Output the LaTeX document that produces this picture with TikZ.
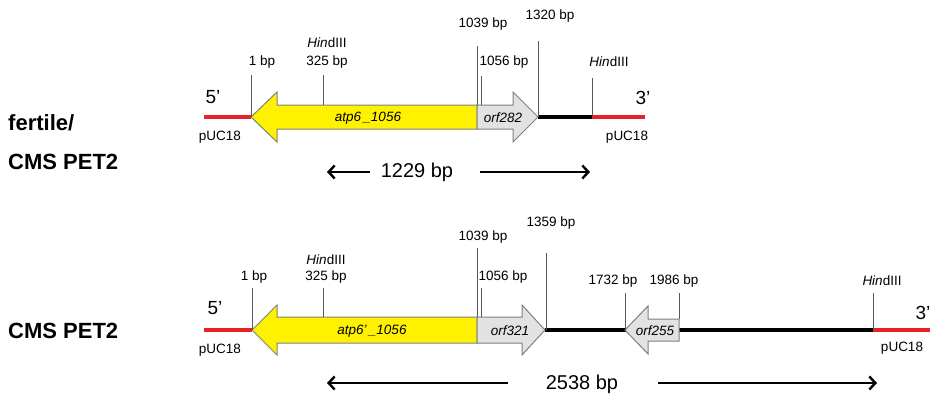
\documentclass[tikz,border=0pt]{standalone}
\usepackage{fontspec}
\setmainfont{Liberation Sans}
\usetikzlibrary{arrows.meta,positioning,calc}

\begin{document}
\begin{tikzpicture}[
    x=1pt, y=-1pt,
    >={Straight Barb[length=6pt,width=13pt]},
    font=\fontsize{13.5}{15}\selectfont,
    lbl/.style={inner sep=0pt},
    endlbl/.style={inner sep=0pt,font=\fontsize{19}{21}\selectfont},
    rowlbl/.style={inner sep=0pt,anchor=west,font=\fontsize{22}{24}\selectfont\bfseries},
    sizelbl/.style={inner sep=0pt,font=\fontsize{20}{22}\selectfont},
    genelbl/.style={inner sep=0pt,font=\fontsize{13.5}{15}\selectfont\itshape},
    tickline/.style={draw=black!65,line width=0.8pt},
    vector/.style={draw=vecred,line width=4pt},
    insert/.style={draw=black,line width=4pt},
    atpgene/.style={draw=genegray,line width=1pt,fill=atpyellow},
    orfgene/.style={draw=genegray,line width=1pt,fill=orffill},
    sizearrow/.style={->,line width=2.4pt},
]

\definecolor{vecred}{RGB}{232,32,40}
\definecolor{atpyellow}{RGB}{255,242,0}
\definecolor{orffill}{RGB}{226,226,226}
\definecolor{genegray}{RGB}{128,128,128}

\useasboundingbox (0,0) rectangle (932,397);

% ---------- Row 1: fertile / CMS PET2 (backbone y = 117) ----------
\node[rowlbl] (fert) at (8,123) {fertile/};
\node[rowlbl] (pet1) at (8,162) {CMS PET2};

\draw[vector] (204,117) -- (251,117);
\draw[insert] (538,117) -- (592,117);
\draw[vector] (592,117) -- (645,117);

\draw[atpgene] (251,117) -- (277,92) -- (277,105) -- (477,105) -- (477,129)
  -- (277,129) -- (277,142) -- cycle;
\draw[orfgene] (477,105) -- (513,105) -- (513,92) -- (538,117) -- (513,142)
  -- (513,129) -- (477,129) -- cycle;
\node[genelbl] (atpA) at (368,118) {atp6\,\_1056};
\node[genelbl] (orfA) at (503,118) {orf282};

% ticks: x / top / bottom
\foreach \x/\yt/\yb in {251/75/117, 323/75/105, 477/46/105, 481/76/105, 538/41/117, 592/78/117}
  \draw[tickline] (\x,\yt) -- (\x,\yb);

\node[lbl] (bpA1) at (262,62) {1 bp};
\node[lbl] (hdA1) at (327,43) {\textit{Hin}dIII};
\node[lbl] (bpA2) at (327,62) {325 bp};
\node[lbl] (bpA3) at (483,24) {1039 bp};
\node[lbl] (bpA4) at (504,62) {1056 bp};
\node[lbl] (bpA5) at (550,16) {1320 bp};
\node[lbl] (hdA2) at (609,62) {\textit{Hin}dIII};
\node[endlbl] (fiveA) at (213,97) {5'};
\node[endlbl] (threeA) at (643,98) {3'};
\node[lbl] (pucA1) at (220,137) {pUC18};
\node[lbl] (pucA2) at (627,137) {pUC18};

\node[sizelbl] (sizeA) at (417,172) {1229 bp};
\draw[sizearrow] (370,172) -- (327,172);
\draw[sizearrow] (480,172) -- (590,172);

% ---------- Row 2: CMS PET2 (backbone y = 330) ----------
\node[rowlbl] (pet2) at (8,331) {CMS PET2};

\draw[vector] (204,330) -- (252,330);
\draw[insert] (545,330) -- (873,330);
\draw[vector] (873,330) -- (930,330);

\draw[atpgene] (252,330) -- (277,305) -- (277,317) -- (477,317) -- (477,343)
  -- (277,343) -- (277,355) -- cycle;
\draw[orfgene] (477,317) -- (522,317) -- (522,305) -- (545,330) -- (522,355)
  -- (522,343) -- (477,343) -- cycle;
\draw[orfgene] (625,330) -- (648,306) -- (648,319) -- (679,319) -- (679,341)
  -- (648,341) -- (648,354) -- cycle;
\node[genelbl] (atpB) at (372,331) {atp6'\,\_1056};
\node[genelbl] (orfB1) at (510,331) {orf321};
\node[genelbl] (orfB2) at (655,331) {orf255};

\foreach \x/\yt/\yb in {252/288/330, 323/288/317, 477/248/317, 481/288/317, 546/253/330, 625/293/330, 679/293/319, 873/293/330}
  \draw[tickline] (\x,\yt) -- (\x,\yb);

\node[lbl] (bpB1) at (254,277) {1 bp};
\node[lbl] (hdB1) at (326,260) {\textit{Hin}dIII};
\node[lbl] (bpB2) at (326,277) {325 bp};
\node[lbl] (bpB3) at (483,237) {1039 bp};
\node[lbl] (bpB4) at (503,277) {1056 bp};
\node[lbl] (bpB5) at (551,223) {1359 bp};
\node[lbl] (bpB6) at (613,281) {1732 bp};
\node[lbl] (bpB7) at (674,281) {1986 bp};
\node[lbl] (hdB2) at (882,281) {\textit{Hin}dIII};
\node[endlbl] (fiveB) at (215,308) {5'};
\node[endlbl] (threeB) at (923,313) {3'};
\node[lbl] (pucB1) at (220,350) {pUC18};
\node[lbl] (pucB2) at (902,348) {pUC18};

\node[sizelbl] (sizeB) at (582,384) {2538 bp};
\draw[sizearrow] (508,383) -- (327,383);
\draw[sizearrow] (658,383) -- (877,383);

\end{tikzpicture}
\end{document}
